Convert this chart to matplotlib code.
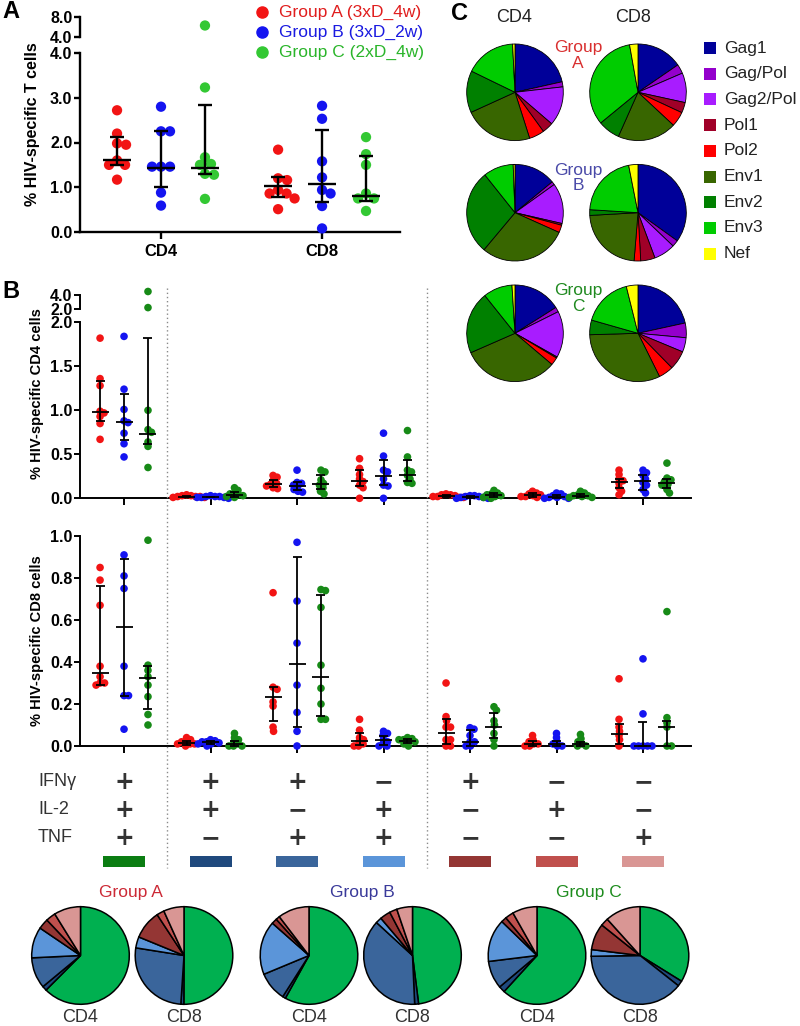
import matplotlib
matplotlib.use('Agg')
import matplotlib.pyplot as plt
import numpy as np
from matplotlib.patches import Rectangle
from matplotlib.lines import Line2D

plt.rcParams['font.family'] = ['Liberation Sans', 'DejaVu Sans']

# ---------------- DATA ----------------
group_names = ['Group A (3xD_4w)', 'Group B (3xD_2w)', 'Group C (2xD_4w)']
subsets = ['CD4', 'CD8']

# Panel A: % HIV-specific T cells (per subset: groups A, B, C)
a_cd4_vals = [[2.72, 2.2, 1.98, 1.95, 1.6, 1.5, 1.5, 1.17],
              [2.8, 2.25, 2.25, 1.46, 1.46, 1.46, 0.88, 0.59],
              [6.3, 3.23, 1.67, 1.52, 1.5, 1.3, 1.28, 0.74]]
a_cd8_vals = [[1.84, 1.2, 1.16, 0.94, 0.86, 0.86, 0.75, 0.51],
              [2.82, 2.53, 1.58, 1.22, 0.94, 0.86, 0.58, 0.08],
              [2.12, 1.74, 1.5, 0.86, 0.75, 0.75, 0.47]]
a_cd4_med = [1.6, 1.42, 1.42]
a_cd4_q1 = [1.5, 1.01, 1.3]
a_cd4_q3 = [2.13, 2.25, 2.83]
a_cd8_med = [1.02, 1.08, 0.81]
a_cd8_q1 = [0.78, 0.66, 0.7]
a_cd8_q3 = [1.23, 2.28, 1.69]

# Panel B: cytokine combinations
ifng = ['+', '+', '+', '\u2212', '+', '\u2212', '\u2212']
il2 = ['+', '+', '\u2212', '+', '\u2212', '+', '\u2212']
tnf = ['+', '\u2212', '+', '+', '\u2212', '\u2212', '+']

# CD4: [category][group] values
b_cd4_vals = [
    [[1.82, 1.36, 1.28, 0.99, 0.97, 0.93, 0.85, 0.67],
     [1.84, 1.24, 1.01, 0.88, 0.86, 0.74, 0.62, 0.47],
     [4.5, 2.2, 1.0, 0.78, 0.75, 0.64, 0.59, 0.35]],
    [[0.04, 0.03, 0.03, 0.02, 0.02, 0.02, 0.01, 0.01],
     [0.03, 0.02, 0.02, 0.02, 0.01, 0.01, 0.01, 0.0],
     [0.12, 0.09, 0.06, 0.05, 0.04, 0.03, 0.02, 0.01]],
    [[0.26, 0.24, 0.2, 0.17, 0.16, 0.14, 0.12, 0.11],
     [0.32, 0.18, 0.17, 0.15, 0.13, 0.1, 0.08, 0.07],
     [0.32, 0.3, 0.21, 0.17, 0.15, 0.12, 0.08, 0.05]],
    [[0.45, 0.34, 0.27, 0.22, 0.19, 0.15, 0.12, 0.0],
     [0.74, 0.48, 0.32, 0.3, 0.22, 0.15, 0.14, 0.0],
     [0.77, 0.47, 0.32, 0.3, 0.26, 0.22, 0.18, 0.17]],
    [[0.05, 0.04, 0.04, 0.03, 0.02, 0.02, 0.01, 0.01],
     [0.03, 0.03, 0.02, 0.02, 0.01, 0.01, 0.0, 0.0],
     [0.09, 0.06, 0.05, 0.04, 0.03, 0.02, 0.01, 0.0]],
    [[0.08, 0.06, 0.05, 0.04, 0.03, 0.02, 0.02, 0.01],
     [0.06, 0.05, 0.03, 0.02, 0.01, 0.01, 0.0, 0.0],
     [0.08, 0.06, 0.04, 0.03, 0.03, 0.02, 0.01, 0.01]],
    [[0.32, 0.27, 0.22, 0.2, 0.17, 0.12, 0.08, 0.04],
     [0.32, 0.29, 0.26, 0.22, 0.18, 0.15, 0.1, 0.06],
     [0.4, 0.23, 0.21, 0.19, 0.16, 0.15, 0.1, 0.06]],
]
b_cd4_med = [[0.98, 0.87, 0.73], [0.02, 0.015, 0.04], [0.16, 0.14, 0.16], [0.2, 0.25, 0.26],
             [0.03, 0.015, 0.04], [0.035, 0.02, 0.03], [0.19, 0.2, 0.17]]
b_cd4_q1 = [[0.88, 0.66, 0.62], [0.015, 0.01, 0.02], [0.125, 0.09, 0.1], [0.14, 0.15, 0.2],
            [0.015, 0.005, 0.02], [0.02, 0.005, 0.015], [0.12, 0.09, 0.12]]
b_cd4_q3 = [[1.33, 1.18, 1.82], [0.03, 0.02, 0.07], [0.21, 0.18, 0.27], [0.32, 0.44, 0.44],
            [0.04, 0.025, 0.055], [0.06, 0.035, 0.045], [0.22, 0.27, 0.22]]

b_cd8_vals = [
    [[0.85, 0.79, 0.67, 0.38, 0.33, 0.30, 0.30, 0.29],
     [0.91, 0.81, 0.75, 0.38, 0.24, 0.24, 0.08],
     [0.98, 0.385, 0.36, 0.33, 0.29, 0.235, 0.15, 0.10]],
    [[0.04, 0.03, 0.02, 0.02, 0.01, 0.01, 0.01, 0.0],
     [0.03, 0.025, 0.02, 0.02, 0.015, 0.01, 0.01, 0.0],
     [0.06, 0.04, 0.03, 0.02, 0.01, 0.0, 0.0, 0.0]],
    [[0.73, 0.28, 0.27, 0.21, 0.19, 0.09, 0.07],
     [0.97, 0.69, 0.49, 0.29, 0.16, 0.07, 0.0],
     [0.745, 0.74, 0.66, 0.385, 0.275, 0.2, 0.127, 0.127]],
    [[0.127, 0.076, 0.04, 0.03, 0.02, 0.01, 0.0, 0.0],
     [0.07, 0.06, 0.05, 0.03, 0.02, 0.01, 0.0, 0.0],
     [0.04, 0.035, 0.03, 0.03, 0.02, 0.02, 0.01, 0.0]],
    [[0.3, 0.14, 0.12, 0.09, 0.09, 0.03, 0.03, 0.0, 0.0],
     [0.087, 0.08, 0.05, 0.02, 0.02, 0.0, 0.0],
     [0.187, 0.17, 0.12, 0.1, 0.06, 0.03, 0.0]],
    [[0.05, 0.03, 0.02, 0.01, 0.01, 0.0, 0.0],
     [0.06, 0.04, 0.02, 0.01, 0.0, 0.0],
     [0.055, 0.035, 0.02, 0.01, 0.0, 0.0]],
    [[0.32, 0.127, 0.09, 0.07, 0.05, 0.03, 0.0],
     [0.415, 0.153, 0.0, 0.0, 0.0, 0.0, 0.0],
     [0.64, 0.135, 0.11, 0.09, 0.0, 0.0]],
]
b_cd8_med = [[0.35, 0.565, 0.325], [0.015, 0.02, 0.01], [0.235, 0.39, 0.33], [0.025, 0.03, 0.025],
             [0.06, 0.02, 0.09], [0.01, 0.01, 0.01], [0.055, 0.0, 0.09]]
b_cd8_q1 = [[0.29, 0.24, 0.175], [0.005, 0.01, 0.0], [0.12, 0.09, 0.145], [0.005, 0.005, 0.015],
            [0.01, 0.0, 0.04], [0.0, 0.0, 0.0], [0.01, 0.0, 0.0]]
b_cd8_q3 = [[0.76, 0.89, 0.38], [0.025, 0.025, 0.025], [0.28, 0.9, 0.72], [0.06, 0.05, 0.035],
            [0.13, 0.075, 0.155], [0.025, 0.025, 0.02], [0.105, 0.115, 0.12]]

# Bottom pies: fractions of [+++, ++-, +-+, -++, +--, -+-, --+]
bot_pie_groups = ['Group A', 'Group B', 'Group C']
bot_A_cd4 = [61.6, 1.5, 10.1, 10.1, 3.4, 3.2, 8.7]
bot_A_cd8 = [50.3, 1.0, 26.6, 3.7, 9.6, 2.5, 6.8]
bot_B_cd4 = [58.1, 1.0, 9.7, 17.8, 1.8, 1.3, 10.4]
bot_B_cd8 = [48.0, 1.3, 37.5, 2.0, 3.5, 2.5, 5.2]
bot_C_cd4 = [61.9, 2.1, 9.2, 14.2, 1.8, 2.8, 8.2]
bot_C_cd8 = [33.9, 1.8, 39.2, 2.2, 8.8, 2.6, 11.7]

# Panel C: antigen specificity
antigens = ['Gag1', 'Gag/Pol', 'Gag2/Pol', 'Pol1', 'Pol2', 'Env1', 'Env2', 'Env3', 'Nef']
c_A_cd4 = [21.5, 1.7, 13.1, 3.7, 5.1, 23.1, 14.0, 17.0, 0.8]
c_A_cd8 = [15.4, 3.1, 9.9, 3.5, 5.0, 19.7, 7.4, 33.1, 2.8]
c_B_cd4 = [14.0, 1.1, 13.5, 0.6, 2.5, 29.4, 28.2, 10.1, 0.6]
c_B_cd8 = [34.9, 2.2, 7.2, 4.8, 2.2, 22.8, 1.9, 20.9, 3.1]
c_C_cd4 = [16.0, 1.6, 15.5, 0.4, 2.6, 32.2, 20.8, 9.7, 1.0]
c_C_cd8 = [21.6, 4.9, 4.8, 6.4, 5.0, 31.9, 4.9, 16.7, 3.9]

# ---------------- STYLE ----------------
colA = ['#f21414', '#1414f0', '#33c833']
colB = ['#f21414', '#1414f0', '#178a17']
legend_text_cols = ['#e01e1e', '#1a1ae0', '#2ab52a']
bar_cols = ['#0b7d12', '#1f497d', '#3a659b', '#5b95d9', '#943634', '#c0504d', '#d99694']
pie_cols = ['#00b050', '#1f497d', '#3a659b', '#5b95d9', '#943634', '#c0504d', '#d99694']
ant_cols = ['#000099', '#9400cc', '#a81cff', '#a00028', '#ff0000', '#386600', '#008000', '#00cc00', '#ffff00']
grp_title_cols = ['#cc2a36', '#3a3a9a', '#1e8c1e']
grpC_cols = ['#d93030', '#4a4aa8', '#208a20']

W, H = 800, 1026
fig = plt.figure(figsize=(W / 100, H / 100), dpi=100)


def axpx(x0, y0, x1, y1):
    return fig.add_axes([x0 / W, 1 - y1 / H, (x1 - x0) / W, (y1 - y0) / H])


def fx(x):
    return x / W


def fy(y):
    return 1 - y / H


def style_axis(ax, lw, bottom=True):
    for s in ['top', 'right']:
        ax.spines[s].set_visible(False)
    ax.spines['bottom'].set_visible(bottom)
    ax.spines['left'].set_linewidth(lw)
    ax.spines['bottom'].set_linewidth(lw)
    ax.patch.set_alpha(0)
    ax.tick_params(direction='out', length=4, width=lw, pad=1.5, labelsize=11.5)


def swarm(ax, xc, vals, d):
    pts = ax.transData.transform(np.column_stack([np.full(len(vals), xc), vals]))
    ypx = pts[:, 1]
    ppu = ax.transData.transform([[1, 0]])[0, 0] - ax.transData.transform([[0, 0]])[0, 0]
    steps = np.arange(1, 80) * 0.5
    cands = np.concatenate([[0.0], np.ravel(np.column_stack([steps, -steps]))])
    placed = []
    offs = np.zeros(len(vals))
    for i in np.argsort(-ypx):
        for c in cands:
            if all((c - px) ** 2 + (ypx[i] - py) ** 2 >= d * d for px, py in placed):
                offs[i] = c
                placed.append((c, ypx[i]))
                break
    return xc + offs / ppu


def px2data(ax, px):
    return px / (ax.transData.transform([[1, 0]])[0, 0] - ax.transData.transform([[0, 0]])[0, 0])


def draw_stats(ax, x, med, q1, q3, mw, cw, lw):
    mwd, cwd = px2data(ax, mw), px2data(ax, cw)
    ax.vlines(x, q1, q3, color='k', lw=lw, zorder=6, clip_on=False)
    ax.hlines([q1, q3], x - cwd, x + cwd, color='k', lw=lw, zorder=6, clip_on=False)
    ax.hlines(med, x - mwd, x + mwd, color='k', lw=lw, zorder=6, clip_on=False)


# ---------------- PANEL A ----------------
axA = axpx(80, 53, 400, 232)
axAu = axpx(80, 17, 400, 37)
for ax in (axA, axAu):
    ax.set_xlim(-0.503, 1.484)
style_axis(axA, 1.7)
style_axis(axAu, 1.7, bottom=False)
axA.set_ylim(0, 4)
axAu.set_ylim(4, 8)
axA.set_yticks([0, 1, 2, 3, 4])
axA.set_yticklabels(['%.1f' % v for v in [0, 1, 2, 3, 4]], fontweight='bold')
axAu.set_yticks([4, 8])
axAu.set_yticklabels(['4.0', '8.0'], fontweight='bold')
axAu.set_xticks([])
axA.set_xticks([0, 1])
axA.set_xticklabels(subsets, fontweight='bold', fontsize=12)
axA.tick_params(axis='x', length=5, pad=4)

offA = [-0.273, 0.0, 0.273]
for ci, (vals_list, meds, q1s, q3s) in enumerate([(a_cd4_vals, a_cd4_med, a_cd4_q1, a_cd4_q3),
                                                  (a_cd8_vals, a_cd8_med, a_cd8_q1, a_cd8_q3)]):
    for g in range(3):
        xc = ci + offA[g]
        v = np.array(vals_list[g])
        lo = v[v <= 4]
        hi = v[v > 4]
        xs = swarm(axA, xc, lo, 9.0)
        axA.scatter(xs, lo, s=55, color=colA[g], edgecolors='none', zorder=5, clip_on=False)
        if len(hi):
            axAu.scatter(np.full(len(hi), xc), hi, s=55, color=colA[g], edgecolors='none', zorder=5, clip_on=False)
        draw_stats(axA, xc, meds[g], q1s[g], q3s[g], 14, 7, 1.7)

fig.text(fx(33), fy(124), '% HIV-specific T cells', rotation=90, ha='center', va='center',
         fontsize=11.5, fontweight='bold')

# legend for groups
for g in range(3):
    yy = 12 + 20 * g
    fig.add_artist(Line2D([fx(262)], [fy(yy)], marker='o', markersize=8, color=colA[g],
                          linestyle='none', transform=fig.transFigure))
    fig.text(fx(279), fy(yy), group_names[g], color=legend_text_cols[g], fontsize=12.5,
             ha='left', va='center')

# ---------------- PANEL B ----------------
xl = (-0.509, 6.555)
axB4 = axpx(80, 322.3, 691, 498.3)
axB4u = axpx(80, 295, 691, 309)
axB8 = axpx(80, 536, 691, 746)
for ax in (axB4, axB4u, axB8):
    ax.set_xlim(*xl)
style_axis(axB4, 1.4)
style_axis(axB4u, 1.4, bottom=False)
style_axis(axB8, 1.4)
axB4.set_ylim(0, 2)
axB4u.set_ylim(2, 4)
axB8.set_ylim(0, 1)
t4 = [0, 0.5, 1.0, 1.5, 2.0]
axB4.set_yticks(t4)
axB4.set_yticklabels(['%.1f' % v for v in t4], fontweight='bold')
axB4u.set_yticks([2, 4])
axB4u.set_yticklabels(['2.0', '4.0'], fontweight='bold')
axB4u.set_xticks([])
t8 = [0, 0.2, 0.4, 0.6, 0.8, 1.0]
axB8.set_yticks(t8)
axB8.set_yticklabels(['%.1f' % v for v in t8], fontweight='bold')
for ax in (axB4, axB8):
    ax.set_xticks(range(7))
    ax.set_xticklabels([])
    ax.tick_params(axis='x', length=5)

offB = [-0.277, 0.0, 0.277]
for k in range(7):
    for g in range(3):
        xc = k + offB[g]
        v = np.array(b_cd4_vals[k][g])
        lo = v[v <= 2]
        hi = v[v > 2]
        xs = swarm(axB4, xc, lo, 4.2)
        axB4.scatter(xs, lo, s=30, color=colB[g], edgecolors='none', zorder=5, clip_on=False)
        if len(hi):
            axB4u.scatter(np.full(len(hi), xc), hi, s=30, color=colB[g], edgecolors='none', zorder=5, clip_on=False)
        draw_stats(axB4, xc, b_cd4_med[k][g], b_cd4_q1[k][g], b_cd4_q3[k][g], 8.5, 4.5, 1.3)

        v8 = np.array(b_cd8_vals[k][g])
        xs8 = swarm(axB8, xc, v8, 4.2)
        axB8.scatter(xs8, v8, s=30, color=colB[g], edgecolors='none', zorder=5, clip_on=False)
        draw_stats(axB8, xc, b_cd8_med[k][g], b_cd8_q1[k][g], b_cd8_q3[k][g], 8.5, 4.5, 1.3)

fig.text(fx(37), fy(394), '% HIV-specific CD4 cells', rotation=90, ha='center', va='center',
         fontsize=10.5, fontweight='bold')
fig.text(fx(37), fy(641), '% HIV-specific CD8 cells', rotation=90, ha='center', va='center',
         fontsize=10.5, fontweight='bold')

# dotted separators
for xd in (167, 427):
    fig.add_artist(Line2D([fx(xd), fx(xd)], [fy(288), fy(868)], transform=fig.transFigure,
                          color='#8a8a8a', lw=1.0, linestyle=(0, (1, 2))))

# cytokine table
row_y = [782, 810, 838]
for lab, yy in zip(['IFN\u03b3', 'IL-2', 'TNF'], row_y):
    fig.text(fx(38), fy(yy), lab, fontsize=13, color='#333333', ha='left', va='center')
for k in range(7):
    xc_px = axB8.transData.transform((k, 0))[0]  # display units are pixels (dpi 100)
    for signs, yy in zip([ifng, il2, tnf], row_y):
        fig.text(xc_px / W, fy(yy), signs[k], fontsize=17, fontweight='bold', color='#333333',
                 ha='center', va='center', family=['DejaVu Sans'])
    fig.add_artist(Rectangle((fx(xc_px - 21), fy(867)), 42 / W, 11 / H, transform=fig.transFigure,
                             facecolor=bar_cols[k], edgecolor='none'))

# bottom pies
bot_data = [(bot_A_cd4, bot_A_cd8), (bot_B_cd4, bot_B_cd8), (bot_C_cd4, bot_C_cd8)]
bot_cx = [(80.5, 184), (309, 412.5), (537, 640)]
title_cx = [131, 362, 589]
pie_cy, pie_r = 955.5, 48.8
for gi in range(3):
    fig.text(fx(title_cx[gi]), fy(892), bot_pie_groups[gi], color=grp_title_cols[gi], fontsize=12.5,
             ha='center', va='center')
    for si in range(2):
        cx = bot_cx[gi][si]
        pad = 2
        ax = axpx(cx - pie_r - pad, pie_cy - pie_r - pad, cx + pie_r + pad, pie_cy + pie_r + pad)
        ax.pie(bot_data[gi][si], colors=pie_cols, startangle=90, counterclock=False,
               wedgeprops=dict(edgecolor='black', linewidth=1.1))
        lim = 1 + pad / pie_r
        ax.set_xlim(-lim, lim)
        ax.set_ylim(-lim, lim)
        ax.set_aspect('auto')
        ax.axis('off')
        fig.text(fx(cx), fy(1018), subsets[si], fontsize=13, color='#333333', ha='center', va='center')

# ---------------- PANEL C ----------------
c_data = [(c_A_cd4, c_A_cd8), (c_B_cd4, c_B_cd8), (c_C_cd4, c_C_cd8)]
c_cy = [92.3, 212.7, 333.3]
c_cx = [515, 638]
c_r = 48.3
fig.text(fx(514), fy(17), 'CD4', fontsize=13, color='#222222', ha='center', va='center')
fig.text(fx(633), fy(17), 'CD8', fontsize=13, color='#222222', ha='center', va='center')
c_lab_y = [55.7, 178, 298.5]
for gi in range(3):
    fig.text(fx(578), fy(c_lab_y[gi]), 'Group\n' + 'ABC'[gi], color=grpC_cols[gi], fontsize=12.5,
             ha='center', va='center', linespacing=1.05)
    for si in range(2):
        cx, cy = c_cx[si], c_cy[gi]
        pad = 2
        ax = axpx(cx - c_r - pad, cy - c_r - pad, cx + c_r + pad, cy + c_r + pad)
        ax.pie(c_data[gi][si], colors=ant_cols, startangle=90, counterclock=False,
               wedgeprops=dict(edgecolor='black', linewidth=0.6))
        lim = 1 + pad / c_r
        ax.set_xlim(-lim, lim)
        ax.set_ylim(-lim, lim)
        ax.set_aspect('auto')
        ax.axis('off')

for i, name in enumerate(antigens):
    yy = 48 + 25.7 * i
    fig.add_artist(Rectangle((fx(704), fy(yy + 6)), 12 / W, 12 / H, transform=fig.transFigure,
                             facecolor=ant_cols[i], edgecolor='none'))
    fig.text(fx(724), fy(yy), name, fontsize=12.5, color='#222222', ha='left', va='center')

# panel letters
fig.text(fx(2), fy(12), 'A', fontsize=17, fontweight='bold', ha='left', va='center')
fig.text(fx(2), fy(292), 'B', fontsize=17, fontweight='bold', ha='left', va='center')
fig.text(fx(451), fy(14), 'C', fontsize=17, fontweight='bold', ha='left', va='center')

fig.savefig('out.png', dpi=100)
